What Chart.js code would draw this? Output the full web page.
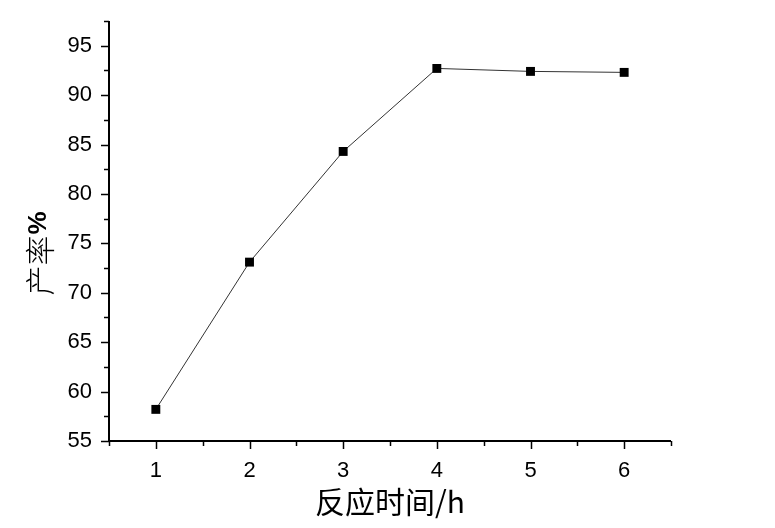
<!DOCTYPE html>
<html>
<head>
<meta charset="utf-8">
<script src="https://cdn.jsdelivr.net/npm/chart.js@4"></script>
<style>
  html, body { margin: 0; padding: 0; background: #fff; }
  #wrap { width: 775px; height: 528px; }
</style>
</head>
<body>
<div id="wrap"><canvas id="c" width="775" height="528"></canvas></div>
<script>
// data
const hours = [1, 2, 3, 4, 5, 6];
const yields = [58.2, 73.1, 84.3, 92.7, 92.4, 92.3];
const xTicks = [1, 2, 3, 4, 5, 6];
const yTicks = [55, 60, 65, 70, 75, 80, 85, 90, 95];
const xTitle = "反应时间/h";
const yTitleCn = "产率";
const yTitlePct = "%";

const latin = "'Liberation Sans', Arial, sans-serif";
const cjk = "'Noto Sans CJK SC', sans-serif";

// axis lines + major/minor ticks, drawn from the scales
const axisTicks = {
  id: "axisTicks",
  afterDraw(chart) {
    const { ctx, chartArea: a, scales: { x, y } } = chart;
    ctx.save();
    ctx.strokeStyle = "#000";
    ctx.lineWidth = 2;
    ctx.beginPath();
    ctx.moveTo(a.left, a.top); ctx.lineTo(a.left, a.bottom); ctx.lineTo(a.right, a.bottom);
    ctx.stroke();
    ctx.lineWidth = 1.5;
    for (let v = x.min; v <= x.max + 1e-9; v += 0.5) {
      const px = Math.round(x.getPixelForValue(v)) + 0.5;
      const len = Number.isInteger(v) ? 8 : 5;
      ctx.beginPath(); ctx.moveTo(px, a.bottom); ctx.lineTo(px, a.bottom + len); ctx.stroke();
    }
    for (let v = y.min; v <= y.max + 1e-9; v += 2.5) {
      const py = Math.round(y.getPixelForValue(v)) + 0.5;
      const len = v % 5 === 0 ? 8 : 5;
      ctx.beginPath(); ctx.moveTo(a.left, py); ctx.lineTo(a.left - len, py); ctx.stroke();
    }
    // y title, rotated, mixed fonts
    ctx.translate(39, 254);
    ctx.rotate(-Math.PI / 2);
    ctx.fillStyle = "#000";
    ctx.textBaseline = "middle";
    ctx.font = "300 30px " + cjk;
    const w1 = ctx.measureText(yTitleCn).width;
    ctx.font = "bold 26px " + latin;
    const w2 = ctx.measureText(yTitlePct).width;
    let sx = -(w1 + w2) / 2;
    ctx.font = "300 30px " + cjk;
    ctx.fillText(yTitleCn, sx, 1);
    ctx.font = "bold 26px " + latin;
    ctx.fillText(yTitlePct, sx + w1 + 1, 0);
    ctx.restore();
  }
};

new Chart(document.getElementById("c"), {
  type: "line",
  data: {
    datasets: [{
      data: hours.map((h, i) => ({ x: h, y: yields[i] })),
      borderColor: "#333",
      borderWidth: 1,
      backgroundColor: "#000",
      pointStyle: "rect",
      pointRadius: 6.3,
      pointBorderWidth: 0,
      tension: 0,
    }]
  },
  options: {
    responsive: false,
    animation: false,
    layout: { padding: { top: 21, right: 104, left: 0, bottom: 0 } },
    plugins: { legend: { display: false }, tooltip: { enabled: false } },
    scales: {
      x: {
        type: "linear", min: 0.5, max: 6.5,
        afterFit: s => { s.height = 87; s.paddingLeft = 0; s.paddingRight = 0; },
        afterBuildTicks: s => { s.ticks = xTicks.map(v => ({ value: v })); },
        grid: { display: false }, border: { display: false },
        ticks: { color: "#000", padding: 9, font: { family: latin, size: 22 } },
        title: { display: true, text: xTitle, color: "#000", padding: { top: 1, bottom: 8 },
                 font: { family: cjk, size: 30, weight: 400 } }
      },
      y: {
        min: 55, max: 97.5,
        afterFit: s => { s.width = 109; s.paddingTop = 0; s.paddingBottom = 0; },
        afterBuildTicks: s => { s.ticks = yTicks.map(v => ({ value: v })); },
        grid: { display: false }, border: { display: false },
        ticks: { color: "#000", padding: 9, font: { family: latin, size: 22 } }
      }
    }
  },
  plugins: [axisTicks]
});
</script>
</body>
</html>
